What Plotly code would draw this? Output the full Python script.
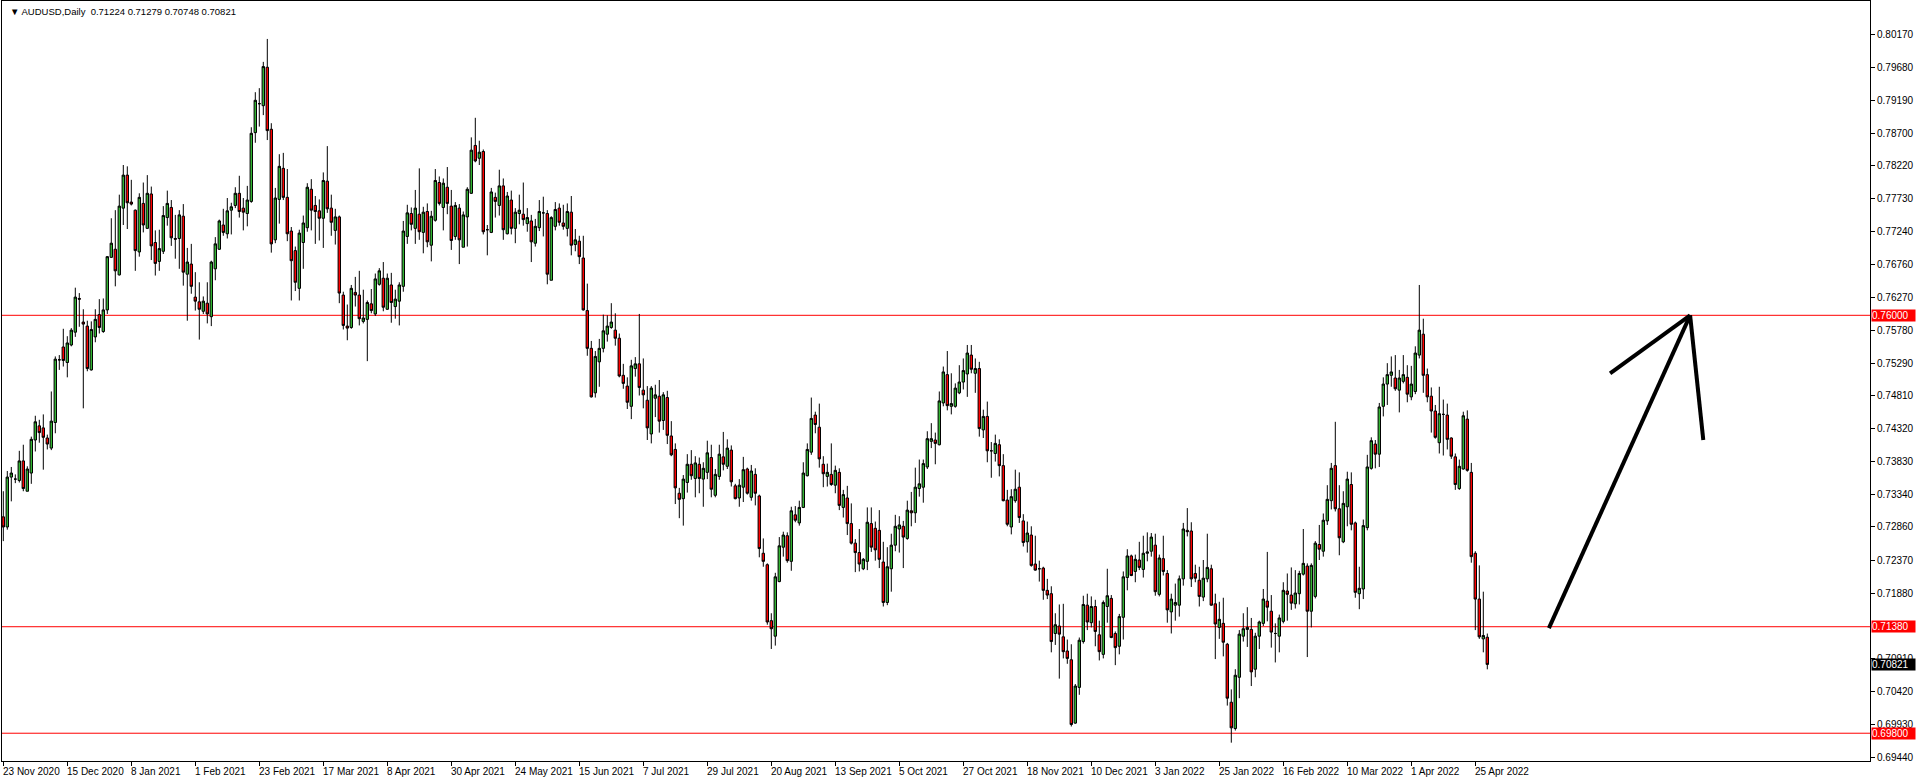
import pandas as pd
import plotly.graph_objects as go

# AUDUSD daily candles (bar 0 = 23 Nov 2020)
open_ = [
    0.7301, 0.7286, 0.7360, 0.7357, 0.7355, 0.7384, 0.7339, 0.7366, 0.7415, 0.7436,
    0.7433, 0.7418, 0.7403, 0.7441, 0.7534, 0.7553, 0.7530, 0.7556, 0.7575, 0.7625,
    0.7590, 0.7584, 0.7519, 0.7568, 0.7601, 0.7576, 0.7608, 0.7686, 0.7698, 0.7660,
    0.7759, 0.7808, 0.7768, 0.7756, 0.7694, 0.7766, 0.7729, 0.7780, 0.7708, 0.7680,
    0.7695, 0.7745, 0.7760, 0.7714, 0.7714, 0.7747, 0.7661, 0.7676, 0.7627, 0.7620,
    0.7606, 0.7618, 0.7598, 0.7669, 0.7698, 0.7734, 0.7721, 0.7756, 0.7763, 0.7781,
    0.7759, 0.7751, 0.7769, 0.7871, 0.7914, 0.7911, 0.7968, 0.7876, 0.7712, 0.7772,
    0.7818, 0.7775, 0.7725, 0.7696, 0.7640, 0.7708, 0.7730, 0.7787, 0.7763, 0.7755,
    0.7744, 0.7799, 0.7759, 0.7726, 0.7746, 0.7630, 0.7584, 0.7582, 0.7634, 0.7630,
    0.7591, 0.7594, 0.7617, 0.7602, 0.7646, 0.7655, 0.7609, 0.7645, 0.7613, 0.7621,
    0.7643, 0.7717, 0.7751, 0.7729, 0.7750, 0.7723, 0.7754, 0.7704, 0.7741, 0.7797,
    0.7760, 0.7790, 0.7762, 0.7717, 0.7759, 0.7701, 0.7746, 0.7781, 0.7852, 0.7833,
    0.7843, 0.7727, 0.7723, 0.7775, 0.7763, 0.7792, 0.7721, 0.7771, 0.7729, 0.7751,
    0.7750, 0.7736, 0.7740, 0.7707, 0.7730, 0.7752, 0.7751, 0.7652, 0.7732, 0.7759,
    0.7737, 0.7729, 0.7753, 0.7705, 0.7710, 0.7685, 0.7607, 0.7551, 0.7485, 0.7531,
    0.7551, 0.7572, 0.7582, 0.7578, 0.7566, 0.7511, 0.7495, 0.7465, 0.7521, 0.7528,
    0.7489, 0.7474, 0.7424, 0.7477, 0.7480, 0.7444, 0.7478, 0.7421, 0.7401, 0.7336,
    0.7328, 0.7352, 0.7379, 0.7358, 0.7379, 0.7357, 0.7367, 0.7389, 0.7333, 0.7361,
    0.7390, 0.7376, 0.7400, 0.7347, 0.7329, 0.7345, 0.7372, 0.7330, 0.7364, 0.7332,
    0.7247, 0.7230, 0.7147, 0.7124, 0.7205, 0.7256, 0.7273, 0.7235, 0.7304, 0.7292,
    0.7315, 0.7362, 0.7397, 0.7452, 0.7434, 0.7379, 0.7361, 0.7364, 0.7348, 0.7367,
    0.7315, 0.7329, 0.7291, 0.7262, 0.7248, 0.7224, 0.7235, 0.7291, 0.7284, 0.7281,
    0.7234, 0.7174, 0.7224, 0.7259, 0.7283, 0.7287, 0.7269, 0.7310, 0.7307, 0.7343,
    0.7345, 0.7375, 0.7413, 0.7415, 0.7408, 0.7470, 0.7512, 0.7465, 0.7465, 0.7485,
    0.7501, 0.7513, 0.7541, 0.7514, 0.7521, 0.7430, 0.7450, 0.7399, 0.7395, 0.7408,
    0.7377, 0.7326, 0.7286, 0.7325, 0.7345, 0.7295, 0.7264, 0.7274, 0.7231, 0.7224,
    0.7225, 0.7192, 0.7187, 0.7128, 0.7139, 0.7123, 0.7102, 0.7089, 0.6995, 0.7048,
    0.7116, 0.7170, 0.7144, 0.7168, 0.7126, 0.7097, 0.7168, 0.7180, 0.7128, 0.7109,
    0.7152, 0.7211, 0.7243, 0.7220, 0.7237, 0.7223, 0.7247, 0.7250, 0.7259, 0.7186,
    0.7239, 0.7217, 0.7160, 0.7170, 0.7170, 0.7209, 0.7281, 0.7280, 0.7217, 0.7207,
    0.7182, 0.7209, 0.7224, 0.7172, 0.7137, 0.7143, 0.7112, 0.7026, 0.6987, 0.7063,
    0.7124, 0.7134, 0.7134, 0.7075, 0.7124, 0.7143, 0.7176, 0.7161, 0.7128, 0.7124,
    0.7146, 0.7191, 0.7185, 0.7172, 0.7187, 0.7216, 0.7228, 0.7161, 0.7183, 0.7260,
    0.7250, 0.7295, 0.7325, 0.7377, 0.7313, 0.7264, 0.7316, 0.7349, 0.7292, 0.7187,
    0.7194, 0.7285, 0.7373, 0.7409, 0.7394, 0.7465, 0.7498, 0.7511, 0.7507, 0.7489,
    0.7502, 0.7508, 0.7479, 0.7487, 0.7541, 0.7572, 0.7512, 0.7480, 0.7458, 0.7411,
    0.7453, 0.7452, 0.7418, 0.7390, 0.7343, 0.7372, 0.7446, 0.7367, 0.7247, 0.7179,
    0.7120, 0.71224,
]
high = [
    0.7339, 0.7369, 0.7375, 0.7364, 0.7399, 0.7408, 0.7376, 0.7420, 0.7451, 0.7445,
    0.7453, 0.7423, 0.7487, 0.7539, 0.7541, 0.7580, 0.7569, 0.7581, 0.7641, 0.7633,
    0.7609, 0.7592, 0.7591, 0.7609, 0.7624, 0.7625, 0.7688, 0.7744, 0.7756, 0.7779,
    0.7823, 0.7821, 0.7801, 0.7757, 0.7781, 0.7797, 0.7808, 0.7791, 0.7726, 0.7727,
    0.7762, 0.7785, 0.7771, 0.7749, 0.7756, 0.7765, 0.7700, 0.7706, 0.7664, 0.7649,
    0.7628, 0.7649, 0.7681, 0.7716, 0.7742, 0.7758, 0.7774, 0.7767, 0.7790, 0.7807,
    0.7774, 0.7792, 0.7879, 0.7931, 0.7937, 0.7976, 0.8010, 0.7885, 0.7789, 0.7839,
    0.7841, 0.7817, 0.7731, 0.7702, 0.7727, 0.7748, 0.7796, 0.7802, 0.7777, 0.7772,
    0.7812, 0.7851, 0.7779, 0.7758, 0.7748, 0.7635, 0.7616, 0.7645, 0.7657, 0.7666,
    0.7638, 0.7622, 0.7639, 0.7662, 0.7670, 0.7679, 0.7662, 0.7663, 0.7638, 0.7649,
    0.7740, 0.7764, 0.7760, 0.7786, 0.7818, 0.7761, 0.7766, 0.7755, 0.7817, 0.7806,
    0.7803, 0.7820, 0.7786, 0.7768, 0.7765, 0.7754, 0.7790, 0.7864, 0.7893, 0.7859,
    0.7846, 0.7734, 0.7789, 0.7782, 0.7816, 0.7803, 0.7783, 0.7785, 0.7759, 0.7779,
    0.7797, 0.7759, 0.7749, 0.7743, 0.7771, 0.7776, 0.7756, 0.7747, 0.7768, 0.7766,
    0.7764, 0.7766, 0.7777, 0.7728, 0.7718, 0.7718, 0.7647, 0.7562, 0.7547, 0.7565,
    0.7601, 0.7600, 0.7618, 0.7603, 0.7573, 0.7528, 0.7508, 0.7534, 0.7538, 0.7602,
    0.7536, 0.7495, 0.7495, 0.7497, 0.7504, 0.7486, 0.7488, 0.7443, 0.7410, 0.7344,
    0.7363, 0.7394, 0.7400, 0.7391, 0.7389, 0.7382, 0.7414, 0.7408, 0.7372, 0.7408,
    0.7427, 0.7416, 0.7407, 0.7350, 0.7357, 0.7390, 0.7374, 0.7378, 0.7373, 0.7334,
    0.7269, 0.7232, 0.7158, 0.7218, 0.7271, 0.7279, 0.7278, 0.7316, 0.7317, 0.7325,
    0.7382, 0.7410, 0.7478, 0.7457, 0.7469, 0.7391, 0.7380, 0.7410, 0.7377, 0.7373,
    0.7341, 0.7347, 0.7321, 0.7268, 0.7283, 0.7240, 0.7315, 0.7315, 0.7294, 0.7311,
    0.7264, 0.7256, 0.7276, 0.7304, 0.7302, 0.7295, 0.7325, 0.7338, 0.7374, 0.7386,
    0.7386, 0.7428, 0.7440, 0.7426, 0.7487, 0.7524, 0.7547, 0.7514, 0.7499, 0.7526,
    0.7536, 0.7556, 0.7556, 0.7536, 0.7531, 0.7460, 0.7472, 0.7412, 0.7423, 0.7416,
    0.7394, 0.7341, 0.7342, 0.7371, 0.7367, 0.7305, 0.7294, 0.7287, 0.7273, 0.7236,
    0.7227, 0.7209, 0.7198, 0.7158, 0.7171, 0.7172, 0.7119, 0.7112, 0.7053, 0.7122,
    0.7184, 0.7187, 0.7183, 0.7178, 0.7147, 0.7177, 0.7224, 0.7185, 0.7131, 0.7157,
    0.7220, 0.7253, 0.7245, 0.7245, 0.7264, 0.7273, 0.7278, 0.7277, 0.7276, 0.7245,
    0.7273, 0.7222, 0.7187, 0.7202, 0.7214, 0.7292, 0.7314, 0.7293, 0.7230, 0.7227,
    0.7237, 0.7276, 0.7230, 0.7187, 0.7175, 0.7181, 0.7114, 0.7045, 0.7075, 0.7133,
    0.7158, 0.7167, 0.7151, 0.7129, 0.7147, 0.7194, 0.7249, 0.7185, 0.7143, 0.7156,
    0.7204, 0.7217, 0.7226, 0.7222, 0.7221, 0.7283, 0.7232, 0.7232, 0.7265, 0.7289,
    0.7306, 0.7348, 0.7381, 0.7442, 0.7348, 0.7339, 0.7368, 0.7367, 0.7294, 0.7227,
    0.7297, 0.7393, 0.7419, 0.7415, 0.7470, 0.7508, 0.7529, 0.7539, 0.7541, 0.7519,
    0.7541, 0.7526, 0.7525, 0.7554, 0.7645, 0.7595, 0.7521, 0.7493, 0.7467, 0.7494,
    0.7475, 0.7469, 0.7419, 0.7395, 0.7386, 0.7457, 0.7459, 0.7381, 0.7250, 0.7229,
    0.7190, 0.71279,
]
low = [
    0.7265, 0.7282, 0.7324, 0.7351, 0.7352, 0.7339, 0.7339, 0.7350, 0.7398, 0.7411,
    0.7371, 0.7401, 0.7400, 0.7425, 0.7519, 0.7524, 0.7508, 0.7554, 0.7568, 0.7583,
    0.7462, 0.7517, 0.7518, 0.7560, 0.7573, 0.7574, 0.7602, 0.7685, 0.7643, 0.7659,
    0.7734, 0.7728, 0.7763, 0.7666, 0.7687, 0.7723, 0.7728, 0.7682, 0.7659, 0.7666,
    0.7691, 0.7733, 0.7703, 0.7684, 0.7669, 0.7644, 0.7592, 0.7632, 0.7607, 0.7564,
    0.7602, 0.7588, 0.7584, 0.7652, 0.7697, 0.7718, 0.7714, 0.7720, 0.7759, 0.7745,
    0.7726, 0.7732, 0.7767, 0.7856, 0.7880, 0.7897, 0.7860, 0.7693, 0.7707, 0.7736,
    0.7771, 0.7710, 0.7622, 0.7636, 0.7622, 0.7669, 0.7724, 0.7726, 0.7706, 0.7711,
    0.7700, 0.7752, 0.7718, 0.7705, 0.7618, 0.7579, 0.7563, 0.7580, 0.7613, 0.7585,
    0.7588, 0.7532, 0.7603, 0.7599, 0.7644, 0.7606, 0.7608, 0.7589, 0.7595, 0.7585,
    0.7635, 0.7706, 0.7726, 0.7706, 0.7712, 0.7692, 0.7701, 0.7680, 0.7739, 0.7763,
    0.7726, 0.7750, 0.7697, 0.7712, 0.7676, 0.7701, 0.7702, 0.7780, 0.7827, 0.7823,
    0.7720, 0.7689, 0.7722, 0.7745, 0.7748, 0.7712, 0.7720, 0.7720, 0.7707, 0.7735,
    0.7733, 0.7724, 0.7679, 0.7702, 0.7725, 0.7717, 0.7646, 0.7652, 0.7726, 0.7733,
    0.7727, 0.7717, 0.7689, 0.7695, 0.7676, 0.7607, 0.7540, 0.7478, 0.7478, 0.7494,
    0.7545, 0.7561, 0.7580, 0.7555, 0.7508, 0.7491, 0.7461, 0.7446, 0.7509, 0.7481,
    0.7462, 0.7415, 0.7410, 0.7449, 0.7426, 0.7430, 0.7409, 0.7391, 0.7320, 0.7299,
    0.7288, 0.7337, 0.7356, 0.7330, 0.7336, 0.7316, 0.7357, 0.7330, 0.7330, 0.7356,
    0.7370, 0.7372, 0.7346, 0.7327, 0.7316, 0.7323, 0.7334, 0.7325, 0.7318, 0.7241,
    0.7227, 0.7141, 0.7105, 0.7110, 0.7204, 0.7242, 0.7233, 0.7221, 0.7293, 0.7288,
    0.7314, 0.7361, 0.7393, 0.7425, 0.7374, 0.7345, 0.7346, 0.7347, 0.7336, 0.7311,
    0.7300, 0.7274, 0.7260, 0.7219, 0.7220, 0.7222, 0.7222, 0.7249, 0.7236, 0.7225,
    0.7168, 0.7170, 0.7190, 0.7250, 0.7248, 0.7225, 0.7267, 0.7287, 0.7292, 0.7331,
    0.7322, 0.7372, 0.7403, 0.7379, 0.7407, 0.7465, 0.7459, 0.7453, 0.7463, 0.7483,
    0.7490, 0.7479, 0.7514, 0.7485, 0.7420, 0.7418, 0.7382, 0.7359, 0.7383, 0.7361,
    0.7324, 0.7287, 0.7275, 0.7322, 0.7292, 0.7257, 0.7248, 0.7227, 0.7221, 0.7205,
    0.7178, 0.7179, 0.7100, 0.7111, 0.7061, 0.7091, 0.7083, 0.6990, 0.6994, 0.7037,
    0.7113, 0.7133, 0.7137, 0.7109, 0.7088, 0.7091, 0.7144, 0.7121, 0.7081, 0.7097,
    0.7119, 0.7192, 0.7213, 0.7204, 0.7222, 0.7211, 0.7235, 0.7242, 0.7184, 0.7183,
    0.7214, 0.7144, 0.7128, 0.7147, 0.7153, 0.7199, 0.7272, 0.7197, 0.7204, 0.7168,
    0.7176, 0.7204, 0.7169, 0.7090, 0.7120, 0.7094, 0.7021, 0.6966, 0.6984, 0.7032,
    0.7116, 0.7108, 0.7050, 0.7063, 0.7105, 0.7139, 0.7146, 0.7107, 0.7085, 0.7100,
    0.7143, 0.7147, 0.7163, 0.7165, 0.7171, 0.7214, 0.7093, 0.7137, 0.7180, 0.7237,
    0.7242, 0.7289, 0.7312, 0.7309, 0.7244, 0.7262, 0.7287, 0.7281, 0.7181, 0.7164,
    0.7179, 0.7281, 0.7371, 0.7373, 0.7375, 0.7450, 0.7467, 0.7494, 0.7488, 0.7456,
    0.7499, 0.7471, 0.7474, 0.7483, 0.7536, 0.7485, 0.7471, 0.7426, 0.7417, 0.7395,
    0.7392, 0.7401, 0.7387, 0.7341, 0.7341, 0.7371, 0.7368, 0.7233, 0.7133, 0.7120,
    0.7100, 0.70748,
]
close = [
    0.7286, 0.7360, 0.7366, 0.7357, 0.7384, 0.7343, 0.7372, 0.7416, 0.7442, 0.7426,
    0.7419, 0.7409, 0.7443, 0.7535, 0.7534, 0.7533, 0.7559, 0.7578, 0.7627, 0.7624,
    0.7587, 0.7521, 0.7579, 0.7594, 0.7582, 0.7608, 0.7687, 0.7707, 0.7666, 0.7762,
    0.7808, 0.7767, 0.7765, 0.7696, 0.7775, 0.7734, 0.7781, 0.7703, 0.7677, 0.7699,
    0.7748, 0.7766, 0.7715, 0.7713, 0.7749, 0.7664, 0.7679, 0.7643, 0.7621, 0.7609,
    0.7621, 0.7602, 0.7679, 0.7706, 0.7740, 0.7723, 0.7755, 0.7761, 0.7781, 0.7754,
    0.7753, 0.7771, 0.7870, 0.7919, 0.7914, 0.7969, 0.7874, 0.7706, 0.7774, 0.7821,
    0.7775, 0.7721, 0.7681, 0.7649, 0.7722, 0.7737, 0.7790, 0.7756, 0.7754, 0.7744,
    0.7800, 0.7758, 0.7738, 0.7746, 0.7633, 0.7585, 0.7581, 0.7640, 0.7630, 0.7595,
    0.7596, 0.7619, 0.7607, 0.7654, 0.7666, 0.7612, 0.7655, 0.7619, 0.7624, 0.7645,
    0.7725, 0.7752, 0.7735, 0.7759, 0.7724, 0.7753, 0.7709, 0.7747, 0.7800, 0.7766,
    0.7796, 0.7766, 0.7711, 0.7763, 0.7712, 0.7749, 0.7787, 0.7845, 0.7829, 0.7842,
    0.7724, 0.7727, 0.7783, 0.7769, 0.7792, 0.7727, 0.7777, 0.7729, 0.7753, 0.7756,
    0.7742, 0.7745, 0.7709, 0.7732, 0.7754, 0.7752, 0.7661, 0.7745, 0.7757, 0.7738,
    0.7732, 0.7754, 0.7704, 0.7712, 0.7687, 0.7608, 0.7551, 0.7479, 0.7539, 0.7551,
    0.7577, 0.7584, 0.7590, 0.7566, 0.7510, 0.7499, 0.7471, 0.7525, 0.7528, 0.7493,
    0.7482, 0.7433, 0.7492, 0.7482, 0.7443, 0.7482, 0.7422, 0.7393, 0.7344, 0.7327,
    0.7357, 0.7379, 0.7362, 0.7381, 0.7358, 0.7373, 0.7396, 0.7342, 0.7364, 0.7394,
    0.7379, 0.7403, 0.7353, 0.7328, 0.7348, 0.7371, 0.7336, 0.7369, 0.7336, 0.7254,
    0.7235, 0.7145, 0.7135, 0.7212, 0.7258, 0.7274, 0.7236, 0.7310, 0.7296, 0.7315,
    0.7366, 0.7401, 0.7447, 0.7438, 0.7387, 0.7365, 0.7367, 0.7349, 0.7370, 0.7318,
    0.7334, 0.7291, 0.7262, 0.7248, 0.7231, 0.7238, 0.7293, 0.7256, 0.7252, 0.7238,
    0.7174, 0.7227, 0.7259, 0.7287, 0.7289, 0.7271, 0.7311, 0.7307, 0.7345, 0.7350,
    0.7380, 0.7417, 0.7417, 0.7410, 0.7473, 0.7516, 0.7466, 0.7469, 0.7492, 0.7501,
    0.7518, 0.7544, 0.7520, 0.7521, 0.7432, 0.7450, 0.7399, 0.7399, 0.7410, 0.7377,
    0.7325, 0.7290, 0.7331, 0.7342, 0.7300, 0.7263, 0.7277, 0.7229, 0.7222, 0.7224,
    0.7192, 0.7185, 0.7116, 0.7141, 0.7127, 0.7101, 0.7091, 0.6993, 0.7050, 0.7118,
    0.7171, 0.7145, 0.7168, 0.7131, 0.7101, 0.7174, 0.7184, 0.7122, 0.7107, 0.7153,
    0.7212, 0.7243, 0.7214, 0.7238, 0.7226, 0.7247, 0.7249, 0.7271, 0.7190, 0.7240,
    0.7220, 0.7163, 0.7179, 0.7174, 0.7209, 0.7283, 0.7279, 0.7209, 0.7210, 0.7183,
    0.7210, 0.7226, 0.7170, 0.7142, 0.7149, 0.7115, 0.7032, 0.6988, 0.7066, 0.7127,
    0.7135, 0.7137, 0.7071, 0.7124, 0.7145, 0.7179, 0.7167, 0.7130, 0.7128, 0.7151,
    0.7192, 0.7186, 0.7173, 0.7188, 0.7217, 0.7232, 0.7161, 0.7229, 0.7262, 0.7253,
    0.7296, 0.7327, 0.7373, 0.7313, 0.7270, 0.7321, 0.7357, 0.7290, 0.7189, 0.7195,
    0.7288, 0.7375, 0.7414, 0.7394, 0.7464, 0.7498, 0.7512, 0.7516, 0.7491, 0.7507,
    0.7512, 0.7483, 0.7498, 0.7544, 0.7578, 0.7511, 0.7479, 0.7458, 0.7419, 0.7454,
    0.7453, 0.7416, 0.7391, 0.7349, 0.7376, 0.7451, 0.7370, 0.7242, 0.7179, 0.7123,
    0.7125, 0.70821,
]

# price axis labels (the one under the 0.71380 level label is hidden) and levels
price_ticks = [0.80170, 0.79680, 0.79190, 0.78700, 0.78220, 0.77730, 0.77240, 0.76760,
               0.76270, 0.75780, 0.75290, 0.74810, 0.74320, 0.73830, 0.73340, 0.72860,
               0.72370, 0.71880, 0.70910, 0.70420, 0.69930, 0.69440]
levels = [0.76000, 0.71380, 0.69800]
last_price = 0.70821

date_labels = ['23 Nov 2020', '15 Dec 2020', '8 Jan 2021', '1 Feb 2021', '23 Feb 2021',
               '17 Mar 2021', '8 Apr 2021', '30 Apr 2021', '24 May 2021', '15 Jun 2021',
               '7 Jul 2021', '29 Jul 2021', '20 Aug 2021', '13 Sep 2021', '5 Oct 2021',
               '27 Oct 2021', '18 Nov 2021', '10 Dec 2021', '3 Jan 2022', '25 Jan 2022',
               '16 Feb 2022', '10 Mar 2022', '1 Apr 2022', '25 Apr 2022']

# trading days (broker has no bar on 25 Dec 2020 / 1 Jan 2021)
days = pd.bdate_range('2020-11-23', '2022-04-28')
days = days[~days.isin(pd.to_datetime(['2020-12-25', '2021-01-01']))]
dates = [d.strftime('%Y-%m-%d') for d in days]
assert len(dates) == len(close)
tick_dates = [pd.to_datetime(t, format='%d %b %Y').strftime('%Y-%m-%d') for t in date_labels]

FONT = 'Liberation Sans, Arial, sans-serif'

fig = go.Figure(go.Candlestick(
    x=dates, open=open_, high=high, low=low, close=close,
    increasing=dict(line=dict(color='black', width=1), fillcolor='#32b432'),
    decreasing=dict(line=dict(color='black', width=1), fillcolor='#ff0000'),
    whiskerwidth=0,
    hoverinfo='x+y',
))

shapes = []
for lv in levels:
    shapes.append(dict(type='line', xref='paper', x0=0, x1=1, yref='y', y0=lv, y1=lv,
                       line=dict(color='#ff0000', width=1), layer='below'))

# hand-drawn arrow (bar index units on the category axis)
arrow = [((386.4, 0.7136), (421.7, 0.7600)),
         ((421.7, 0.7600), (401.7, 0.7514)),
         ((421.7, 0.7600), (425.0, 0.7415))]
for (xa, ya), (xb, yb) in arrow:
    shapes.append(dict(type='line', xref='x', yref='y', x0=xa, y0=ya, x1=xb, y1=yb,
                       line=dict(color='black', width=4)))

annotations = []
for d, t in zip(tick_dates, date_labels):
    annotations.append(dict(x=d, xref='x', y=0, yref='paper', text=t, showarrow=False,
                            xanchor='left', yanchor='top', xshift=-2, yshift=-3,
                            font=dict(family=FONT, size=10, color='black')))
for lv in levels:
    annotations.append(dict(x=1, xref='paper', y=lv, yref='y', text=f'{lv:.5f}',
                            showarrow=False, xanchor='left', yanchor='middle', xshift=1,
                            bgcolor='#ff0000', width=43, height=11, borderpad=0,
                            align='left', font=dict(family=FONT, size=10, color='white')))
annotations.append(dict(x=1, xref='paper', y=last_price, yref='y', text=f'{last_price:.5f}',
                        showarrow=False, xanchor='left', yanchor='middle', xshift=1,
                        bgcolor='black', width=43, height=11, borderpad=0,
                        align='left', font=dict(family=FONT, size=10, color='white')))
annotations.append(dict(x=0, xref='paper', y=1, yref='paper',
                        text='▼ AUDUSD,Daily\u00a0 %.5f %.5f %.5f %.5f' % (open_[-1], high[-1], low[-1], close[-1]),
                        showarrow=False, xanchor='left', yanchor='top', xshift=6, yshift=-3,
                        font=dict(family=FONT, size=9.5, color='black')))

fig.update_layout(
    width=1916, height=782,
    margin=dict(l=2, r=46, t=1, b=21, autoexpand=False),
    paper_bgcolor='white', plot_bgcolor='white',
    showlegend=False,
    boxgap=0.4, boxgroupgap=0,
    shapes=shapes, annotations=annotations,
    font=dict(family=FONT, size=10, color='black'),
    xaxis=dict(type='category', range=[-0.325, 466.675], rangeslider=dict(visible=False),
               tickvals=tick_dates, showticklabels=False, ticks='outside', ticklen=4,
               tickcolor='black', showgrid=False, showline=True, linecolor='black',
               linewidth=1, mirror=True, zeroline=False),
    yaxis=dict(side='right', range=[0.69388, 0.80663], tickvals=price_ticks,
               ticktext=[f'{v:.5f}' for v in price_ticks], ticks='outside', ticklen=4,
               tickcolor='black', tickfont=dict(family=FONT, size=10, color='black'),
               showgrid=False, showline=True, linecolor='black', linewidth=1,
               mirror=True, zeroline=False),
)

# page body margin would push the 1916 px figure off screen
fig.write_html('out.html', config={'displayModeBar': False},
               post_script="document.body.style.margin='0';")
